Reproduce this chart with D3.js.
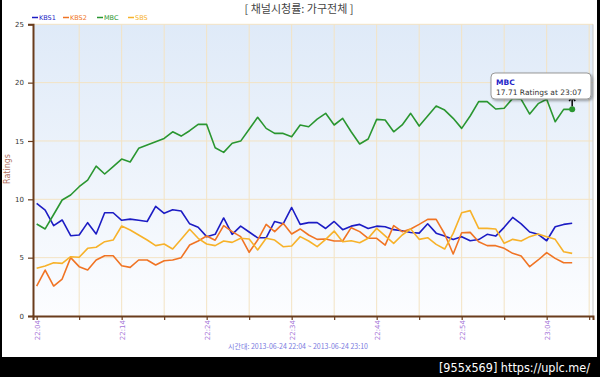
<!DOCTYPE html>
<html><head><meta charset="utf-8">
<script src="https://cdn.jsdelivr.net/npm/d3@7"></script>
<style>html,body{margin:0;padding:0;background:#000;}svg{display:block;}</style>
</head><body>
<script>
const times = ["22:04","22:05","22:06","22:07","22:08","22:09","22:10","22:11","22:12","22:13",
"22:14","22:15","22:16","22:17","22:18","22:19","22:20","22:21","22:22","22:23",
"22:24","22:25","22:26","22:27","22:28","22:29","22:30","22:31","22:32","22:33",
"22:34","22:35","22:36","22:37","22:38","22:39","22:40","22:41","22:42","22:43",
"22:44","22:45","22:46","22:47","22:48","22:49","22:50","22:51","22:52","22:53",
"22:54","22:55","22:56","22:57","22:58","22:59","23:00","23:01","23:02","23:03",
"23:04","23:05","23:06","23:07"];
const kbs1 = [9.66,9.08,7.74,8.23,6.88,6.94,8.0,7.03,8.85,8.85,8.2,8.3,8.2,8.1,9.4,8.8,9.1,9.0,7.9,7.6,
6.8,7.0,8.4,7.0,7.7,7.2,6.7,6.7,8.1,7.9,9.3,7.85,8.0,8.0,7.5,8.1,7.4,7.7,7.85,7.5,
7.7,7.65,7.4,7.3,7.15,7.1,7.9,7.1,6.85,6.55,6.8,6.45,6.55,7.0,6.85,7.6,8.45,7.9,7.2,7.0,
6.45,7.65,7.85,7.95];
const kbs2 = [2.57,3.94,2.57,3.17,5.0,4.23,3.94,4.8,5.17,5.17,4.3,4.17,4.8,4.8,4.37,4.74,4.8,5.0,6.08,6.43,
6.86,6.5,7.74,7.23,6.8,5.46,6.51,7.85,7.23,7.94,7.03,7.46,6.94,6.57,6.6,6.43,6.43,7.57,7.23,6.66,
6.66,6.08,7.74,7.23,7.46,7.85,8.28,8.28,7.03,5.31,7.14,7.17,6.37,6.03,6.03,5.8,5.37,5.14,4.23,4.8,
5.43,4.94,4.57,4.57];
const mbc = [7.88,7.46,8.7,9.94,10.37,11.08,11.65,12.85,12.17,12.8,13.45,13.2,14.37,14.65,14.94,15.22,15.79,15.42,15.88,16.42,
16.42,14.42,14.02,14.8,14.99,16.0,17.03,16.08,15.65,15.65,15.37,16.37,16.22,16.88,17.37,16.37,16.94,15.79,14.74,15.17,
16.85,16.8,15.79,16.37,17.37,16.28,17.14,18.0,17.65,16.94,16.08,17.14,18.37,18.37,17.74,17.8,18.65,18.57,17.31,18.2,
18.57,16.65,17.71,17.71];
const sbs = [4.09,4.28,4.57,4.51,5.08,5.03,5.8,5.89,6.37,6.51,7.71,7.37,6.94,6.51,6.03,6.17,5.74,6.57,7.43,6.66,
6.17,6.03,6.43,6.31,6.66,6.6,5.66,6.66,6.51,5.94,6.0,6.8,6.43,5.94,6.57,7.28,6.37,6.45,6.28,6.66,
7.51,6.86,6.23,6.94,7.46,6.57,6.71,6.14,5.74,7.08,8.85,9.03,7.51,7.51,7.46,6.23,6.57,6.43,6.8,7.03,
6.8,6.57,5.51,5.37];
const seriesNames = ["KBS1","KBS2","MBC","SBS"];
const seriesColors = ["#1c1cc4","#f07424","#2a9630","#f7b22a"];
const seriesData = [kbs1,kbs2,mbc,sbs];
const xTickMinutes = [0,5,10,15,20,25,30,35,40,45,50,55,60,65];
const xTickLabels = {0:"22:04",10:"22:14",20:"22:24",30:"22:34",40:"22:44",50:"22:54",60:"23:04"};
const yTicks = [0,5,10,15,20,25];
const title = "[ 채널시청률: 가구전체 ]";
const xTitle = "시간대: 2013-06-24 22:04 ~ 2013-06-24 23:10";
const yTitle = "Ratings";
const tipSeries = 2, tipIndex = 63;

const W = 600, H = 377;
const svg = d3.select("body").append("svg").attr("width", W).attr("height", H);
svg.append("rect").attr("width", W).attr("height", H).attr("fill", "#000");
svg.append("rect").attr("x", 2).attr("y", 0).attr("width", 595).attr("height", 357).attr("fill", "#fff");

const minutes = times.map(t => { const [h, m] = t.split(":").map(Number); return (h * 60 + m) - (22 * 60 + 4); });
const x = d3.scaleLinear().domain([-0.43, 65.45]).range([33, 593]);
const y = d3.scaleLinear().domain([0, 25]).range([316, 24.3]);

const defs = svg.append("defs");
const grad = defs.append("linearGradient").attr("id", "bg").attr("x1", 0).attr("y1", 0).attr("x2", 0).attr("y2", 1);
grad.append("stop").attr("offset", "0%").attr("stop-color", "#dfeaf8");
grad.append("stop").attr("offset", "100%").attr("stop-color", "#fcfdff");
const sh = defs.append("filter").attr("id", "sh").attr("x", "-10%").attr("y", "-20%").attr("width", "130%").attr("height", "160%");
sh.append("feDropShadow").attr("dx", 1.5).attr("dy", 1.5).attr("stdDeviation", 1.2).attr("flood-color", "#000").attr("flood-opacity", 0.35);

svg.append("rect").attr("x", x.range()[0]).attr("y", y(25)).attr("width", x.range()[1] - x.range()[0])
  .attr("height", y(0) - y(25)).attr("fill", "url(#bg)");

// grid
svg.append("g").selectAll("line").data(xTickMinutes.filter(d => d > 0)).join("line")
  .attr("x1", d => x(d)).attr("x2", d => x(d)).attr("y1", y(25)).attr("y2", y(0))
  .attr("stroke", "#f3e3c3").attr("stroke-width", 1);
svg.append("g").selectAll("line").data(yTicks.filter(d => d > 0)).join("line")
  .attr("x1", x.range()[0]).attr("x2", x.range()[1]).attr("y1", d => y(d)).attr("y2", d => y(d))
  .attr("stroke", "#f3e3c3").attr("stroke-width", 1);
svg.append("line").attr("x1", x.range()[1]).attr("x2", x.range()[1]).attr("y1", y(25)).attr("y2", y(0))
  .attr("stroke", "#c8c8c8");

// axes
const axisColor = "#6a3c1c";
const yAxis = svg.append("g").attr("transform", `translate(${x.range()[0]},0)`)
  .call(d3.axisLeft(y).tickValues(yTicks).tickSize(5).tickPadding(4));
yAxis.select(".domain").attr("stroke", axisColor).attr("stroke-width", 2);
yAxis.selectAll(".tick line").attr("stroke", axisColor).attr("stroke-width", 1.2);
yAxis.selectAll("text").attr("font-family", "DejaVu Sans").attr("font-size", 7).attr("fill", "#333");

const xAxis = svg.append("g").attr("transform", `translate(0,${y(0)})`)
  .call(d3.axisBottom(x).tickValues(xTickMinutes).tickSize(4).tickFormat(d => xTickLabels[d] || ""));
xAxis.select(".domain").attr("stroke", axisColor).attr("stroke-width", 2);
xAxis.selectAll(".tick line").attr("stroke", axisColor).attr("stroke-width", 1.2);
xAxis.selectAll("text").attr("font-family", "DejaVu Sans").attr("font-size", 7).attr("fill", "#a878d8")
  .attr("text-anchor", "end").attr("transform", "translate(0,4) rotate(-90)").attr("x", 0).attr("y", 0).attr("dy", "0.35em");

// lines
const line = d3.line().x((d, i) => x(minutes[i])).y(d => y(d));
seriesData.forEach((s, k) => {
  svg.append("path").datum(s).attr("d", line).attr("fill", "none")
    .attr("stroke", seriesColors[k]).attr("stroke-width", 1.6).attr("stroke-linejoin", "round");
});

// titles
svg.append("text").attr("x", 299).attr("y", 13).attr("text-anchor", "middle")
  .attr("font-family", "Noto Sans CJK KR").attr("font-size", 11).attr("fill", "#444").text(title);
svg.append("text").attr("x", 298).attr("y", 349).attr("text-anchor", "middle")
  .attr("font-family", "Noto Sans CJK KR, DejaVu Sans").attr("font-size", 7).attr("fill", "#7a7ae0").text(xTitle);
svg.append("text").attr("transform", "translate(10,169) rotate(-90)").attr("text-anchor", "middle")
  .attr("font-family", "DejaVu Sans").attr("font-size", 8).attr("fill", "#b07060").text(yTitle);

// legend
const legX = [32, 63, 97, 128];
seriesNames.forEach((n, k) => {
  svg.append("line").attr("x1", legX[k]).attr("x2", legX[k] + 6).attr("y1", 17.5).attr("y2", 17.5)
    .attr("stroke", seriesColors[k]).attr("stroke-width", 1.5);
  svg.append("text").attr("x", legX[k] + 7).attr("y", 20).attr("font-family", "DejaVu Sans")
    .attr("font-size", 6.5).attr("fill", seriesColors[k]).text(n);
});

// tooltip
const px = x(minutes[tipIndex]), py = y(seriesData[tipSeries][tipIndex]);
svg.append("circle").attr("cx", px).attr("cy", py).attr("r", 3).attr("fill", seriesColors[tipSeries]);
svg.append("line").attr("x1", px).attr("x2", px).attr("y1", py - 3).attr("y2", 98).attr("stroke", "#000").attr("stroke-width", 1.5);
svg.append("path").attr("d", `M${px - 3},${101} L${px},${97} L${px + 3},${101}`).attr("fill", "none").attr("stroke", "#000").attr("stroke-width", 1.5);
svg.append("rect").attr("x", 491).attr("y", 73).attr("width", 100).attr("height", 26).attr("rx", 4)
  .attr("fill", "#fff").attr("stroke", "#999").attr("stroke-width", 1).attr("filter", "url(#sh)");
svg.append("text").attr("x", 496).attr("y", 85).attr("font-family", "DejaVu Sans").attr("font-weight", "bold")
  .attr("font-size", 7.5).attr("fill", "#2424c8").text(seriesNames[tipSeries]);
svg.append("text").attr("x", 496).attr("y", 94.5).attr("font-family", "DejaVu Sans")
  .attr("font-size", 7.5).attr("fill", "#333")
  .text(`${seriesData[tipSeries][tipIndex].toFixed(2)} Ratings at ${times[tipIndex]}`);

// footer
svg.append("text").attr("x", 590).attr("y", 372).attr("text-anchor", "end")
  .attr("font-family", "DejaVu Sans Condensed, DejaVu Sans").attr("font-size", 12.5).attr("fill", "#fff")
  .text("[955x569] https://uplc.me/");
</script>
</body></html>
